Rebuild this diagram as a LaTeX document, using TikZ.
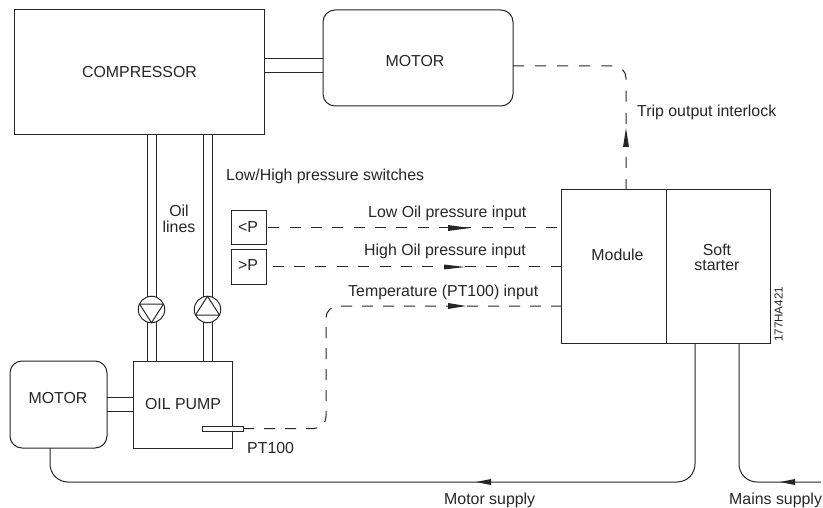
\documentclass[tikz,border=0pt]{standalone}
\usepackage{fontspec}
\setmainfont{Liberation Sans}
\definecolor{ink}{HTML}{262626}
\tikzset{
  box/.style={draw=ink,line width=1pt,fill=white,inner sep=0pt,outer sep=0pt},
  rbox/.style={box,rounded corners=12pt},
  wire/.style={draw=ink,line width=1pt},
  sig/.style={draw=ink,line width=1pt,rounded corners=12pt},
  supply/.style={draw=ink,line width=1pt,rounded corners=18pt},
  lab/.style={text=ink,font=\fontsize{15.9}{18}\selectfont,inner sep=0pt,anchor=base},
  labl/.style={lab,anchor=base west},
  tip/.style={fill=ink,draw=none},
}
\begin{document}
\begin{tikzpicture}[x=1pt,y=-1pt]
\useasboundingbox (0,0) rectangle (823,508);
\node[box,minimum width=250pt,minimum height=125pt] (comp) at (139,72.5) {};
\node[rbox,minimum width=190pt,minimum height=96pt] (motora) at (418,58) {};
\node[rbox,minimum width=97pt,minimum height=87pt] (motorb) at (58.5,404.5) {};
\node[box,minimum width=99pt,minimum height=87pt] (pump) at (182.5,404.5) {};
\node[box,minimum width=34.5pt,minimum height=34pt] (lowp) at (249,228) {};
\node[box,minimum width=34.5pt,minimum height=34pt] (highp) at (249,267) {};
\node[box,minimum width=104.5pt,minimum height=153pt] (module) at (614,266.5) {};
\node[box,minimum width=104pt,minimum height=153pt] (soft) at (718,266.5) {};
% shafts
\draw[wire] (comp.east |- 0,59) -- (motora.west |- 0,59);
\draw[wire] (comp.east |- 0,72.5) -- (motora.west |- 0,72.5);
\draw[wire] (motorb.east |- 0,397) -- (pump.west |- 0,397);
\draw[wire] (motorb.east |- 0,411.5) -- (pump.west |- 0,411.5);
% oil lines
\draw[wire] (comp.south -| 147,0) -- (pump.north -| 147,0);
\draw[wire] (comp.south -| 156,0) -- (pump.north -| 156,0);
\draw[wire] (comp.south -| 203,0) -- (pump.north -| 203,0);
\draw[wire] (comp.south -| 212,0) -- (pump.north -| 212,0);
% pumps
\node[box,circle,minimum size=26.5pt] (pumpd) at (151.5,309.5) {};
\node[box,circle,minimum size=26.5pt] (pumpu) at (207.5,309.5) {};
\draw[wire,line join=round] (139.5,304) -- (163.5,304) -- (pumpd.south) -- cycle;
\draw[wire,line join=round] (195.5,315) -- (219.5,315) -- (pumpu.north) -- cycle;
% PT100 probe
\node[box,minimum width=41pt,minimum height=5pt] (probe) at (222.5,428.5) {};
% signals
\coordinate (trip1) at (626,66);
\coordinate (temp1) at (326,428.5);
\coordinate (temp2) at (326,306);
\draw[sig,dash pattern=on 11pt off 11.08pt] (motora.east |- trip1) -- (trip1) -- (module.north -| trip1);
\draw[sig,dash pattern=on 11pt off 10.36pt] (lowp.east |- 0,228) ++(2,0) -- (module.west |- 0,228);
\draw[sig,dash pattern=on 11pt off 10.37pt] (highp.east |- 0,267) ++(6.5,0) -- (module.west |- 0,267);
\draw[sig,dash pattern=on 11pt off 10pt] (probe.east) -- (temp1) -- (temp2) -- (module.west |- temp2);
% supplies
\coordinate (sup1) at (695,482);
\coordinate (sup2) at (50,482);
\coordinate (mains1) at (739,482);
\coordinate (mains2) at (821,482);
\draw[supply] (soft.south -| sup1) -- (sup1) -- (sup2) -- (motorb.south -| sup2);
\draw[supply] (soft.south -| mains1) -- (mains1) -- (mains2);
% arrowheads
\fill[tip] (626,128) -- (629,147) -- (623,147) -- cycle;
\fill[tip] (470,228) -- (448,225) -- (448,231) -- cycle;
\fill[tip] (465,267) -- (444,264.5) -- (444,269.5) -- cycle;
\fill[tip] (466,306) -- (448,303) -- (448,309) -- cycle;
\fill[tip] (476,482) -- (491,479) -- (491,485) -- cycle;
\fill[tip] (780,482) -- (795,479) -- (795,485) -- cycle;
% labels
\node[lab] (tcomp) at (139.5,78) {COMPRESSOR};
\node[lab] (tmota) at (415,67) {MOTOR};
\node[lab] (tmotb) at (58,403) {MOTOR};
\node[lab] (tpump) at (183,409) {OIL PUMP};
\node[labl] (tpt) at (247,453) {PT100};
\node[lab] (toil) at (179,217) {Oil};
\node[lab] (tlines) at (179,233) {lines};
\node[labl] (tsw) at (226,181) {Low/High pressure switches};
\node[lab] (tlp) at (248,233) {<P};
\node[lab] (thp) at (248,271) {>P};
\node[labl] (tlow) at (368,218) {Low Oil pressure input};
\node[labl] (thigh) at (364,255) {High Oil pressure input};
\node[labl] (ttemp) at (348,297) {Temperature (PT100) input};
\node[labl] (ttrip) at (637,117) {Trip output interlock};
\node[lab] (tmod) at (617.5,261) {Module};
\node[lab] (tsoft) at (717,255) {Soft};
\node[lab] (tstart) at (717,271) {starter};
\node[labl] (tmsup) at (444,504) {Motor supply};
\node[labl] (tmains) at (729,504) {Mains supply};
\node[text=ink,font=\fontsize{11.6}{14}\selectfont,inner sep=0pt,anchor=base west,rotate=90] (tcode) at (782.7,342) {177HA421};
\end{tikzpicture}
\end{document}
